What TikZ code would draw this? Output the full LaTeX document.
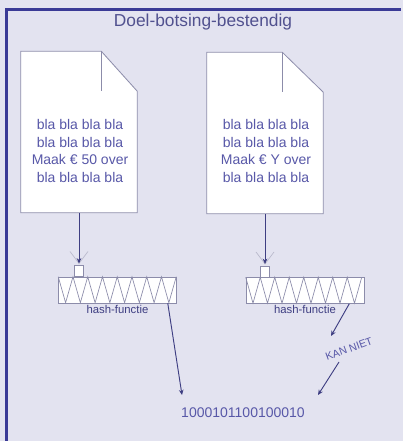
\documentclass[tikz,border=0pt]{standalone}
\usepackage{fontspec}
\setmainfont{Liberation Sans}
\usetikzlibrary{arrows.meta,positioning,calc}
\definecolor{bg}{RGB}{227,227,240}
\definecolor{frame}{RGB}{58,58,150}
\definecolor{ink}{RGB}{88,88,168}
\definecolor{dark}{RGB}{62,62,130}
\definecolor{edge}{RGB}{140,140,170}
\tikzset{
  pagebox/.style={minimum width=87pt, minimum height=120.75pt, inner sep=0pt},
  page/.style={draw=edge, fill=white, line width=0.6pt},
  fold/.style={draw=edge, line width=0.6pt},
  doctext/.style={text=ink, align=center, font=\fontsize{10.5}{13.2}\selectfont},
  inlet/.style={draw=edge, fill=white, minimum width=6.75pt, minimum height=8.25pt, inner sep=0pt},
  hashbox/.style={draw=edge, fill=white, minimum width=88.5pt, minimum height=19.5pt, inner sep=0pt},
  zig/.style={draw=edge, line width=0.5pt},
  hashlbl/.style={text=dark, font=\fontsize{8.5}{10}\selectfont, inner sep=1pt},
  feed/.style={draw=dark, line width=0.6pt, -{Stealth[length=4pt,width=3.5pt]}},
  funnel/.style={draw=edge!60, line width=0.5pt},
  res/.style={draw=dark, line width=0.7pt, -{Stealth[length=4pt,width=3.5pt]}},
  warn/.style={text=ink, font=\fontsize{8}{10}\selectfont, rotate=20, inner sep=0.5pt}
}

\begin{document}
\begin{tikzpicture}[x=0.75pt, y=-0.75pt]
  \useasboundingbox (0,0) rectangle (403,441);
  \fill[bg] (0,0) rectangle (403,441);
  \draw[frame, line width=2.25pt] (6.5,441) -- (6.5,9.7) -- (401,9.7);

  \node[text=dark!90, font=\fontsize{13}{16}\selectfont] (title) at (203,22) {Doel-botsing-bestendig};

  % documenten
  \node[pagebox] (pageA) at (79,132) {};
  \draw[page] (pageA.south west) -- (pageA.north west) -- ($(pageA.north east)+(-36,0)$)
    -- ($(pageA.north east)+(0,40)$) -- (pageA.south east) -- cycle;
  \draw[fold] ($(pageA.north east)+(-36,0)$) -- ($(pageA.north east)+(-36,40)$);
  \node[doctext] (txtA) at (80,151) {bla bla bla bla\\bla bla bla bla\\Maak € 50 over\\bla bla bla bla};

  \node[pagebox] (pageB) at (265,133) {};
  \draw[page] (pageB.south west) -- (pageB.north west) -- ($(pageB.north east)+(-41,0)$)
    -- ($(pageB.north east)+(0,40)$) -- (pageB.south east) -- cycle;
  \draw[fold] ($(pageB.north east)+(-41,0)$) -- ($(pageB.north east)+(-41,40)$);
  \node[doctext] (txtB) at (266,151) {bla bla bla bla\\bla bla bla bla\\Maak € Y over\\bla bla bla bla};

  % hash-functies
  \node[hashbox] (hashA) at (117.5,290) {};
  \draw[zig] (hashA.north west) \foreach \i in {1,...,8} { -- ++(7.375,26) -- ++(7.375,-26) };
  \node[hashlbl, below=0pt of hashA] (lblA) {hash-functie};
  \node[inlet, anchor=south] (inA) at (79,277) {};

  \node[hashbox] (hashB) at (305,290.5) {};
  \draw[zig] (hashB.north west) \foreach \i in {1,...,8} { -- ++(7.25,26) -- ++(7.25,-26) };
  \node[hashlbl, below=0pt of hashB] (lblB) {hash-functie};
  \node[inlet, anchor=south] (inB) at (265,277.5) {};

  \draw[funnel] ($(inA.north)+(-9,-14)$) -- ($(inA.north)+(0,-2)$) -- ($(inA.north)+(9,-14)$);
  \draw[funnel] ($(inB.north)+(-9,-14)$) -- ($(inB.north)+(0,-2)$) -- ($(inB.north)+(9,-14)$);
  \draw[feed] (pageA.south) -- ($(inA.north)+(0,-2)$);
  \draw[feed] (pageB.south) -- ($(inB.north)+(0,-2)$);

  % uitkomst
  \node[text=ink, font=\fontsize{10.5}{12}\selectfont] (out) at (243,413) {1000101100100010};
  \coordinate (hitA) at (182,395);
  \coordinate (stopB) at (331,336);
  \coordinate (restB) at (339,362);
  \coordinate (hitB) at (318,395);
  \draw[res] ($(hashA.south east)+(-9,0)$) -- (hitA);
  \draw[res] ($(hashB.south east)+(-15,0)$) -- (stopB);
  \node[warn] (niet) at (349,349) {KAN NIET};
  \draw[res] (restB) -- (hitB);
\end{tikzpicture}
\end{document}
